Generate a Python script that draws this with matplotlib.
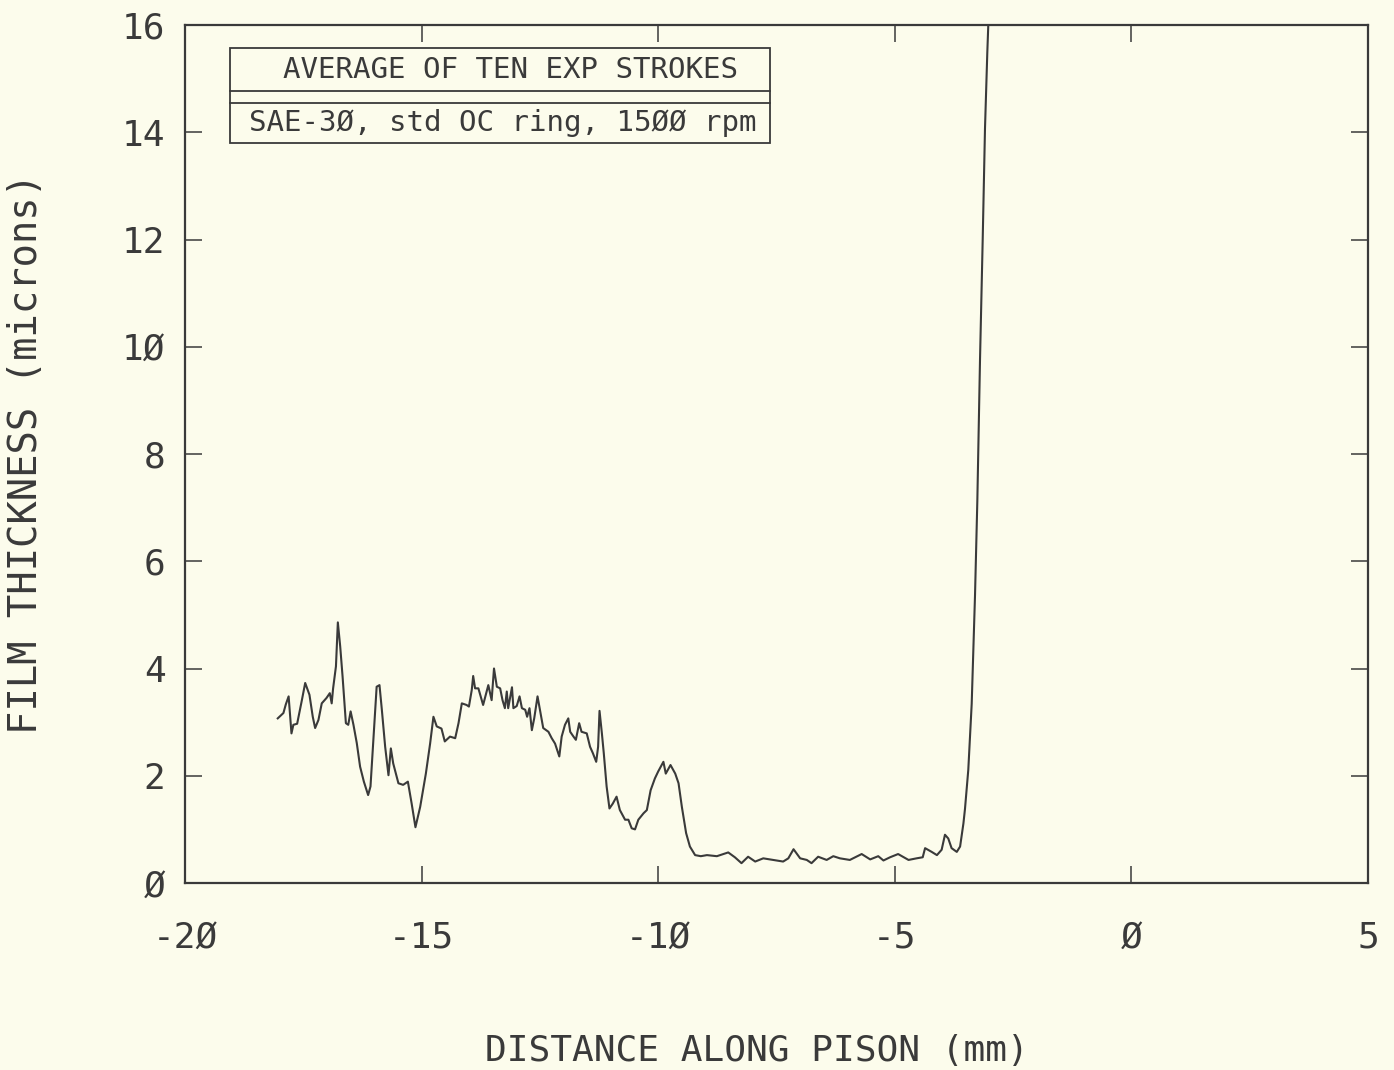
import matplotlib
matplotlib.use("Agg")
import matplotlib.pyplot as plt
from matplotlib import font_manager
from matplotlib.patches import Rectangle
from matplotlib.lines import Line2D

# ---- data ----
x_mm = [
    -18.04, -17.92, -17.87, -17.81, -17.78, -17.75, -17.71, -17.63, -17.53, -17.46,
    -17.37, -17.30, -17.25, -17.18, -17.11, -17.01, -16.94, -16.90, -16.87, -16.81,
    -16.77, -16.72, -16.67, -16.60, -16.55, -16.50, -16.44, -16.37, -16.30, -16.22,
    -16.13, -16.08, -16.02, -15.95, -15.89, -15.84, -15.77, -15.70, -15.65, -15.60,
    -15.49, -15.39, -15.29, -15.21, -15.13, -15.03, -14.91, -14.82, -14.75, -14.68,
    -14.58, -14.51, -14.40, -14.29, -14.22, -14.15, -14.05, -14.00, -13.94, -13.91,
    -13.87, -13.80, -13.70, -13.59, -13.52, -13.47, -13.41, -13.34, -13.29, -13.24,
    -13.20, -13.17, -13.09, -13.06, -12.99, -12.93, -12.88, -12.81, -12.77, -12.72,
    -12.67, -12.62, -12.55, -12.50, -12.43, -12.32, -12.25, -12.18, -12.09, -12.04,
    -11.97, -11.90, -11.86, -11.79, -11.74, -11.67, -11.62, -11.51, -11.44, -11.38,
    -11.31, -11.27, -11.24, -11.19, -11.15, -11.09, -11.03, -10.96, -10.88, -10.81,
    -10.70, -10.63, -10.56, -10.49, -10.42, -10.31, -10.24, -10.16, -10.07, -10.00,
    -9.89, -9.84, -9.74, -9.64, -9.57, -9.50, -9.41, -9.33, -9.22,
    -9.10, -8.97, -8.76, -8.52, -8.38, -8.24, -8.10, -7.95, -7.78, -7.57,
    -7.36, -7.25, -7.14, -7.00, -6.86, -6.76, -6.62, -6.44, -6.30, -6.16,
    -5.95, -5.70, -5.52, -5.35, -5.24, -5.10, -4.93, -4.71, -4.54, -4.41,
    -4.36, -4.22, -4.11, -4.01, -3.94, -3.87, -3.80, -3.69, -3.62, -3.55,
    -3.517, -3.447, -3.375, -3.305, -3.256, -3.199, -3.142, -3.094, -3.045, -3.00,
]
film_um = [
    3.07, 3.17, 3.33, 3.48, 3.13, 2.79, 2.95, 2.97, 3.41, 3.73,
    3.51, 3.10, 2.89, 3.04, 3.35, 3.45, 3.54, 3.35, 3.63, 4.04,
    4.86, 4.41, 3.85, 2.98, 2.95, 3.20, 2.95, 2.61, 2.17, 1.89,
    1.64, 1.80, 2.67, 3.66, 3.69, 3.23, 2.54, 2.01, 2.51, 2.23,
    1.86, 1.83, 1.89, 1.48, 1.04, 1.42, 2.04, 2.60, 3.10, 2.92,
    2.88, 2.64, 2.73, 2.70, 2.98, 3.35, 3.32, 3.29, 3.60, 3.86,
    3.63, 3.63, 3.32, 3.69, 3.41, 4.00, 3.66, 3.63, 3.41, 3.26,
    3.57, 3.26, 3.65, 3.26, 3.30, 3.48, 3.26, 3.23, 3.10, 3.26,
    2.85, 3.07, 3.48, 3.23, 2.89, 2.82, 2.70, 2.60, 2.36, 2.73,
    2.95, 3.07, 2.82, 2.73, 2.67, 2.98, 2.82, 2.79, 2.54, 2.42,
    2.26, 2.54, 3.21, 2.79, 2.42, 1.80, 1.39, 1.48, 1.61, 1.36,
    1.18, 1.18, 1.02, 1.00, 1.18, 1.30, 1.36, 1.73, 1.95, 2.08,
    2.26, 2.04, 2.20, 2.04, 1.86, 1.42, 0.93, 0.68, 0.52,
    0.50, 0.52, 0.50, 0.57, 0.48, 0.37, 0.49, 0.40, 0.46, 0.43,
    0.40, 0.46, 0.63, 0.46, 0.43, 0.37, 0.49, 0.43, 0.50, 0.46,
    0.43, 0.54, 0.44, 0.50, 0.42, 0.48, 0.54, 0.43, 0.46, 0.48,
    0.65, 0.58, 0.52, 0.62, 0.90, 0.83, 0.65, 0.58, 0.68, 1.11,
    1.38, 2.11, 3.34, 5.36, 7.12, 9.77, 12.02, 14.07, 15.49, 16.6,
]

x_ticks = [-20, -15, -10, -5, 0, 5]
x_tick_labels = ["-2\u00d8", "-15", "-1\u00d8", "-5", "\u00d8", "5"]
y_ticks = [0, 2, 4, 6, 8, 10, 12, 14, 16]
y_tick_labels = ["\u00d8", "2", "4", "6", "8", "1\u00d8", "12", "14", "16"]

legend_title = "AVERAGE OF TEN EXP STROKES"
legend_sub = "SAE-3\u00d8, std OC ring, 15\u00d8\u00d8 rpm"
x_label = "DISTANCE ALONG PISON (mm)"
y_label = "FILM THICKNESS (microns)"

BG = "#fcfcec"
INK = "#3a3a3a"


def pick_font(cands):
    for c in cands:
        try:
            font_manager.findfont(font_manager.FontProperties(family=c),
                                  fallback_to_default=False)
            return c
        except Exception:
            continue
    return "DejaVu Sans Mono"


MONO = pick_font(["DejaVu Sans Mono", "Liberation Mono"])
plt.rcParams["font.family"] = [MONO, "DejaVu Sans"]

fig = plt.figure(figsize=(13.94, 10.70), dpi=100, facecolor=BG)
ax = fig.add_axes([185 / 1394, 1 - 883 / 1070, 1183 / 1394, 858 / 1070])
ax.set_facecolor(BG)

ax.plot(x_mm, film_um, color=INK, lw=1.5, solid_joinstyle="round")

ax.set_xlim(-20, 5)
ax.set_ylim(0, 16)

ax.set_xticks(x_ticks)
ax.set_xticklabels(x_tick_labels)
ax.set_yticks(y_ticks)
ax.set_yticklabels(y_tick_labels)

ax.tick_params(axis="both", which="major", direction="in", length=12, width=1.1,
               color=INK, labelcolor=INK, labelsize=26,
               top=True, right=True)
ax.tick_params(axis="x", pad=27)
ax.tick_params(axis="y", pad=14)

for s in ax.spines.values():
    s.set_color(INK)
    s.set_linewidth(1.6)

ax.set_xlabel(x_label, fontsize=26, color=INK)
ax.set_ylabel(y_label, fontsize=28, color=INK)
ax.xaxis.set_label_coords(0.4835, -0.176)
ax.yaxis.set_label_coords(-0.118, 0.5)

# legend-like annotation box
x0, x1 = 0.038, 0.4945
y_top, y_mid1, y_mid2, y_bot = 0.9732, 0.923, 0.909, 0.8625
ax.add_patch(Rectangle((x0, y_bot), x1 - x0, y_top - y_bot, transform=ax.transAxes,
                       fill=False, edgecolor=INK, lw=1.3, zorder=5))
for yy in (y_mid1, y_mid2):
    ax.add_line(Line2D([x0, x1], [yy, yy], transform=ax.transAxes, color=INK, lw=1.3, zorder=5))
ax.text((x0 + x1) / 2 + 0.009, (y_top + y_mid1) / 2, legend_title, transform=ax.transAxes,
        ha="center", va="center", fontsize=21, color=INK, zorder=6)
ax.text((x0 + x1) / 2 + 0.002, (y_mid2 + y_bot) / 2, legend_sub, transform=ax.transAxes,
        ha="center", va="center", fontsize=21, color=INK, zorder=6)

fig.savefig("out.png", dpi=100, facecolor=BG)
